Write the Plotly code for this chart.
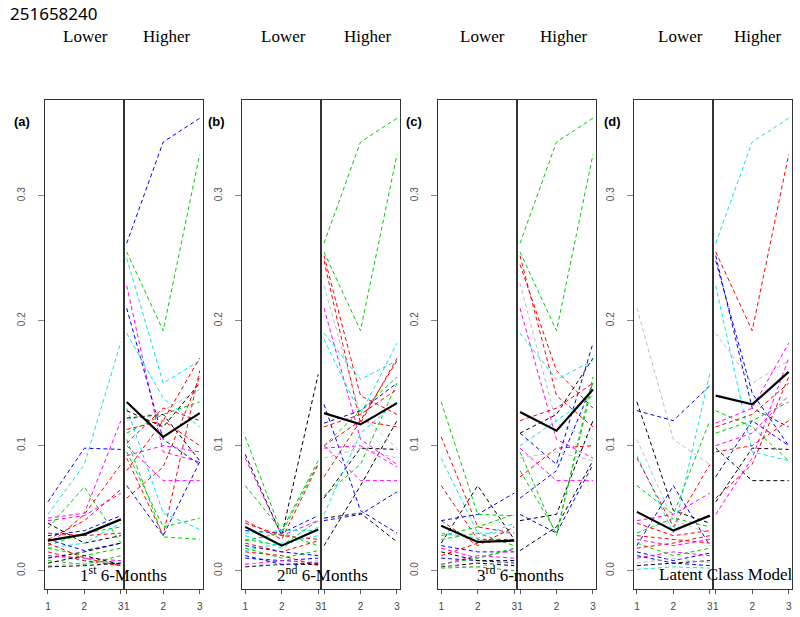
import plotly.graph_objects as go

times = [1, 2, 3]

# colour codes follow the R palette: k black, r red, g green3, b blue,
# c cyan, m magenta, y grey
a_low = [
    [0.055, 0.098, 0.097], [0.045, 0.085, 0.183], [0.042, 0.046, 0.120],
    [0.040, 0.044, 0.062], [0.034, 0.067, 0.022], [0.020, 0.045, 0.085],
    [0.025, 0.040, 0.065], [0.028, 0.032, 0.044], [0.038, 0.022, 0.028],
    [0.020, 0.030, 0.035], [0.030, 0.028, 0.030], [0.018, 0.022, 0.038],
    [0.025, 0.016, 0.022], [0.018, 0.012, 0.018], [0.012, 0.008, 0.006],
    [0.022, 0.010, 0.004], [0.015, 0.008, 0.004], [0.003, 0.004, 0.006],
    [0.004, 0.006, 0.008], [0.010, 0.015, 0.022], [0.012, 0.010, 0.008],
    [0.008, 0.005, 0.012], [0.006, 0.012, 0.005],
]
a_low_col = "bcmmgrrbkgrcbgcrrkykmgk"
a_low_mean = [0.024, 0.029, 0.041]

a_high = [
    [0.262, 0.343, 0.362], [0.255, 0.192, 0.333], [0.250, 0.150, 0.168],
    [0.228, 0.095, 0.087], [0.210, 0.105, 0.085], [0.190, 0.138, 0.115],
    [0.130, 0.046, 0.033], [0.128, 0.115, 0.150], [0.122, 0.125, 0.088],
    [0.120, 0.128, 0.145], [0.113, 0.120, 0.100], [0.080, 0.120, 0.170],
    [0.058, 0.083, 0.155], [0.090, 0.028, 0.160], [0.068, 0.028, 0.087],
    [0.105, 0.027, 0.025], [0.095, 0.035, 0.042], [0.100, 0.072, 0.072],
    [0.110, 0.125, 0.135], [0.102, 0.130, 0.120], [0.092, 0.100, 0.095],
]
a_high_col = "bgcmbcckkyrrrrbggmgrm"
a_high_mean = [0.135, 0.107, 0.126]

# panel (b) 2nd 6-months
b_low = [
    [0.107, 0.030, 0.086], [0.093, 0.028, 0.157], [0.090, 0.028, 0.040],
    [0.068, 0.032, 0.088], [0.040, 0.025, 0.085], [0.032, 0.030, 0.044],
    [0.030, 0.032, 0.032], [0.038, 0.028, 0.025], [0.025, 0.020, 0.040],
    [0.028, 0.018, 0.035], [0.022, 0.015, 0.024], [0.018, 0.010, 0.016],
    [0.020, 0.015, 0.012], [0.010, 0.008, 0.010], [0.005, 0.008, 0.006],
    [0.003, 0.005, 0.005], [0.006, 0.004, 0.008], [0.015, 0.012, 0.004],
    [0.012, 0.005, 0.006], [0.024, 0.030, 0.020], [0.016, 0.022, 0.028],
]
b_low_col = "gkmgrbcrgcrgbbmkyrbgc"
b_low_mean = [0.035, 0.020, 0.033]

b_high = [
    [0.262, 0.343, 0.362], [0.255, 0.192, 0.333], [0.252, 0.140, 0.125],
    [0.248, 0.118, 0.170], [0.228, 0.125, 0.098], [0.210, 0.105, 0.085],
    [0.190, 0.153, 0.168], [0.185, 0.125, 0.182], [0.133, 0.048, 0.030],
    [0.118, 0.128, 0.150], [0.040, 0.045, 0.063], [0.020, 0.068, 0.120],
    [0.058, 0.098, 0.097], [0.042, 0.046, 0.023], [0.100, 0.072, 0.072],
    [0.098, 0.100, 0.083], [0.075, 0.120, 0.168], [0.100, 0.120, 0.115],
    [0.100, 0.128, 0.155], [0.060, 0.085, 0.150], [0.045, 0.110, 0.135],
    [0.115, 0.125, 0.145], [0.090, 0.098, 0.090],
]
b_high_col = "ggrrymccbbbkkkmmrrggcry"
b_high_mean = [0.126, 0.117, 0.134]

# panel (c) 3rd 6-months
c_low = [
    [0.135, 0.045, 0.044], [0.107, 0.035, 0.030], [0.090, 0.030, 0.030],
    [0.068, 0.025, 0.025], [0.022, 0.068, 0.025], [0.040, 0.045, 0.062],
    [0.040, 0.020, 0.035], [0.028, 0.035, 0.045], [0.030, 0.026, 0.038],
    [0.025, 0.030, 0.020], [0.020, 0.015, 0.015], [0.018, 0.010, 0.017],
    [0.012, 0.022, 0.025], [0.005, 0.012, 0.010], [0.010, 0.008, 0.006],
    [0.003, 0.006, 0.004], [0.004, 0.003, 0.008], [0.002, 0.003, 0.000],
    [0.015, 0.008, 0.008], [0.005, 0.010, 0.018],
]
c_low_col = "grcrkbrgcgbmrmbkygkg"
c_low_mean = [0.036, 0.023, 0.024]

c_high = [
    [0.262, 0.343, 0.362], [0.255, 0.192, 0.333], [0.252, 0.140, 0.115],
    [0.245, 0.160, 0.130], [0.230, 0.118, 0.105], [0.210, 0.105, 0.090],
    [0.190, 0.153, 0.168], [0.110, 0.085, 0.182], [0.058, 0.080, 0.150],
    [0.045, 0.030, 0.085], [0.110, 0.125, 0.170], [0.040, 0.045, 0.120],
    [0.016, 0.035, 0.088], [0.095, 0.028, 0.155], [0.080, 0.030, 0.150],
    [0.098, 0.072, 0.072], [0.075, 0.098, 0.100], [0.120, 0.130, 0.150],
    [0.100, 0.120, 0.140], [0.090, 0.095, 0.088],
]
c_high_col = "ggrrymcbbbkkkggmrrcy"
c_high_mean = [0.127, 0.112, 0.145]

# panel (d) latent class model
d_low = [
    [0.210, 0.105, 0.085], [0.135, 0.048, 0.038], [0.128, 0.120, 0.148],
    [0.105, 0.040, 0.030], [0.092, 0.030, 0.158], [0.090, 0.035, 0.085],
    [0.068, 0.045, 0.120], [0.020, 0.068, 0.020], [0.040, 0.045, 0.062],
    [0.038, 0.028, 0.032], [0.030, 0.042, 0.035], [0.028, 0.025, 0.022],
    [0.025, 0.020, 0.025], [0.022, 0.012, 0.018], [0.018, 0.022, 0.028],
    [0.015, 0.008, 0.014], [0.010, 0.015, 0.012], [0.004, 0.006, 0.008],
    [0.001, 0.003, 0.002], [0.012, 0.006, 0.004], [0.006, 0.010, 0.006],
]
d_low_col = "ykbycrgbmrgrmgrbmkcby"
d_low_mean = [0.047, 0.032, 0.044]

d_high = [
    [0.262, 0.343, 0.362], [0.255, 0.192, 0.333], [0.252, 0.130, 0.115],
    [0.248, 0.142, 0.100], [0.228, 0.095, 0.088], [0.190, 0.150, 0.168],
    [0.128, 0.115, 0.088], [0.115, 0.125, 0.150], [0.118, 0.130, 0.182],
    [0.110, 0.120, 0.135], [0.075, 0.120, 0.100], [0.098, 0.072, 0.072],
    [0.055, 0.098, 0.097], [0.058, 0.085, 0.155], [0.045, 0.090, 0.170],
    [0.100, 0.110, 0.140], [0.095, 0.100, 0.120],
]
d_high_col = "crbbcygrmgbkkrmmr"
d_high_mean = [0.140, 0.133, 0.159]

panel_tags = ["(a)", "(b)", "(c)", "(d)"]
panel_titles = ["1<sup>st</sup> 6-Months", "2<sup>nd</sup> 6-Months",
                "3<sup>rd</sup> 6-months", "Latent Class Model"]
y_ticks = [0.0, 0.1, 0.2, 0.3]

palette = {"k": "#000000", "r": "#FF0000", "g": "#00CD00", "b": "#0000FF",
           "c": "#00E5EE", "m": "#FF00FF", "y": "#BEBEBE"}

groups = [
    (a_low, a_low_col, a_low_mean), (a_high, a_high_col, a_high_mean),
    (b_low, b_low_col, b_low_mean), (b_high, b_high_col, b_high_mean),
    (c_low, c_low_col, c_low_mean), (c_high, c_high_col, c_high_mean),
    (d_low, d_low_col, d_low_mean), (d_high, d_high_col, d_high_mean),
]

W, H = 800, 617
lefts = [45, 242.3, 438.3, 634]
half = 78.8
box_top, box_bot = 100, 589

fig = go.Figure()
layout = {}
for k, (lines, cols, mean) in enumerate(groups):
    n = k + 1
    xa, ya = f"x{n}", f"y{n}"
    for vals, c in zip(lines, cols):
        fig.add_trace(go.Scatter(x=times, y=vals, mode="lines", xaxis=xa, yaxis=ya,
                                 line=dict(color=palette[c], width=1, dash="4px,3px"),
                                 hoverinfo="skip"))
    fig.add_trace(go.Scatter(x=times, y=mean, mode="lines", xaxis=xa, yaxis=ya,
                             line=dict(color="black", width=2.2), hoverinfo="skip"))

    p, side = divmod(k, 2)
    x0 = lefts[p] + side * half
    key = "" if n == 1 else str(n)
    layout["xaxis" + key] = dict(
        domain=[x0 / W, (x0 + half) / W], anchor=ya, range=[0.92, 3.08],
        tickvals=times, ticks="outside", ticklen=4, tickcolor="#555",
        showline=True, mirror=True, linecolor="#333", linewidth=1,
        showgrid=False, zeroline=False, ticklabelstandoff=4,
        tickfont=dict(family="Liberation Sans", size=10, color="#444"),
    )
    ydict = dict(
        domain=[(H - box_bot) / H, (H - box_top) / H], anchor=xa,
        range=[-0.0147, 0.3766], showline=True, mirror=True,
        linecolor="#333", linewidth=1, showgrid=False, zeroline=False,
    )
    if side == 0:
        ydict.update(tickvals=y_ticks, ticktext=[f"{v:.1f}" for v in y_ticks],
                     ticks="outside", ticklen=6, tickcolor="#888", tickangle=-90,
                     ticklabelstandoff=9,
                     tickfont=dict(family="Liberation Sans", size=10, color="#555"))
    else:
        ydict.update(showticklabels=False, ticks="")
    layout["yaxis" + key] = ydict

ann = [dict(x=8 / W, y=1 - 13 / H, xref="paper", yref="paper", text="251658240",
            showarrow=False, xanchor="left", yanchor="middle",
            font=dict(family="Noto Sans", size=17, color="black"))]
lower_x = [85, 283, 482, 680]
higher_x = [167, 368, 564, 758]
tag_x = [22, 216, 414, 612]
title_x = [123, 322, 520, 725]
for p in range(4):
    for txt, xx in (("Lower", lower_x[p]), ("Higher", higher_x[p])):
        ann.append(dict(x=xx / W, y=1 - 36 / H, xref="paper", yref="paper", text=txt,
                        showarrow=False, xanchor="center", yanchor="middle",
                        font=dict(family="Liberation Serif", size=17, color="black")))
    ann.append(dict(x=tag_x[p] / W, y=1 - 121 / H, xref="paper", yref="paper",
                    text=f"<b>{panel_tags[p]}</b>", showarrow=False,
                    xanchor="center", yanchor="middle",
                    font=dict(family="Liberation Sans", size=13, color="black")))
    ann.append(dict(x=title_x[p] / W, y=1 - 574 / H, xref="paper", yref="paper",
                    text=panel_titles[p], showarrow=False,
                    xanchor="center", yanchor="middle",
                    font=dict(family="Liberation Serif", size=17, color="black")))

fig.update_layout(
    width=W, height=H, showlegend=False, annotations=ann,
    margin=dict(l=0, r=0, t=0, b=0),
    paper_bgcolor="white", plot_bgcolor="white", **layout,
)
fig.write_html("out.html", config={"displayModeBar": False},
               post_script="document.body.style.margin='0px';")
